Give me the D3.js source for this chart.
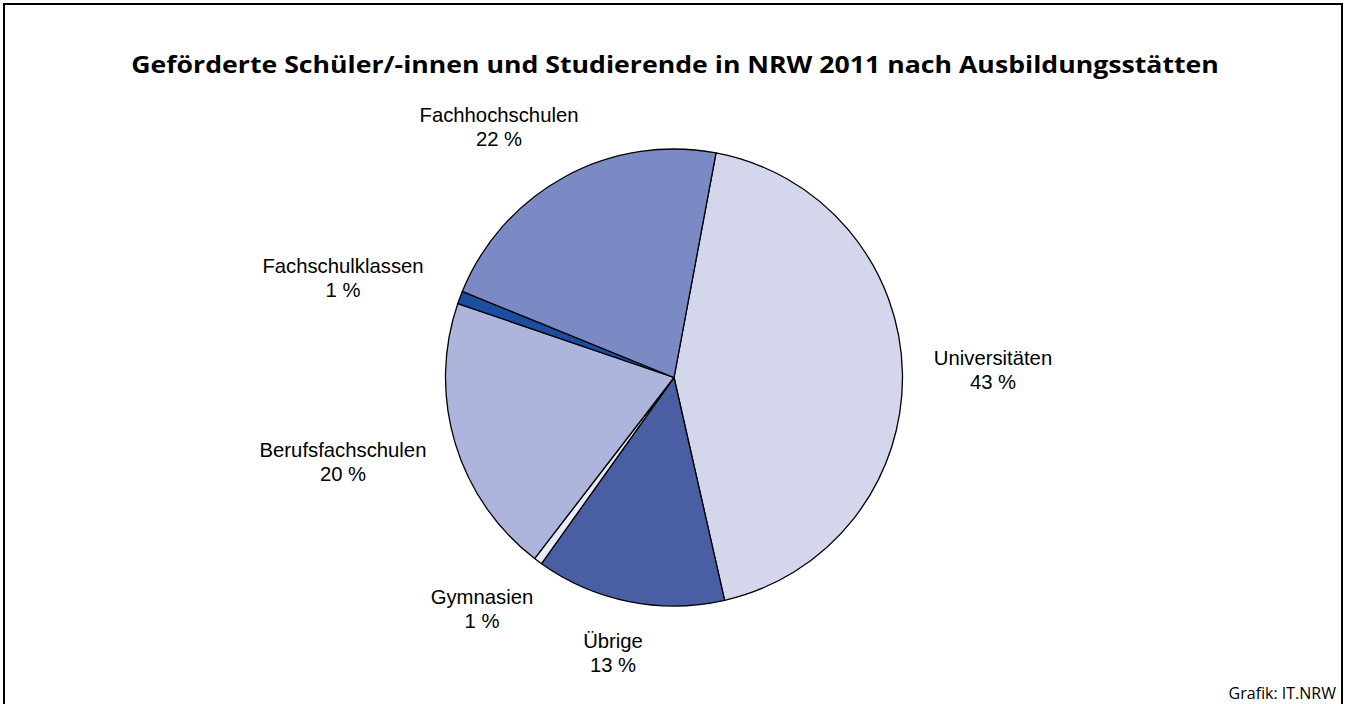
<!DOCTYPE html>
<html><head><meta charset="utf-8">
<script src="https://cdn.jsdelivr.net/npm/d3@7/dist/d3.min.js"></script>
<style>body{margin:0;background:#fff}svg{display:block}</style>
</head><body>
<svg id="c" width="1352" height="704"></svg>
<script>
const categories = ["Universitäten","Übrige","Gymnasien","Berufsfachschulen","Fachschulklassen","Fachhochschulen"];
const values = [43.5, 13.4, 0.6, 19.8, 0.9, 21.8];
const percentLabels = ["43 %","13 %","1 %","20 %","1 %","22 %"];
const colors = ["#d4d7ec","#4a5fa3","#e9ebf5","#adb5dc","#1b4e9e","#7b8ac5"];
const title = "Geförderte Schüler/-innen und Studierende in NRW 2011 nach Ausbildungsstätten";
const source = "Grafik: IT.NRW";

const svg = d3.select("#c");
svg.append("rect").attr("x",4).attr("y",4).attr("width",1338).attr("height",720)
  .attr("fill","none").attr("stroke","#000").attr("stroke-width",2);

// title: fit to the reference width with a horizontal scale
const tg = svg.append("g");
const t = tg.append("text").attr("x",0).attr("y",0).attr("text-anchor","middle")
  .attr("font-family","'Open Sans', 'Noto Sans', sans-serif").attr("font-weight","bold")
  .attr("font-size",24).attr("fill","#000").text(title);
const tw = t.node().getComputedTextLength();
tg.attr("transform",`translate(675,73) scale(${1088/tw},1)`);

const cx = 674, cy = 377.5, r = 228.5;
const startA = 10.6*Math.PI/180;
const pie = d3.pie().sort(null).startAngle(startA).endAngle(startA+2*Math.PI)(values);
const arc = d3.arc().innerRadius(0).outerRadius(r);
const g = svg.append("g").attr("transform",`translate(${cx},${cy})`);
g.selectAll("path").data(pie).join("path").attr("d",arc)
  .attr("fill",(d,i)=>colors[i]).attr("stroke","#000").attr("stroke-width",1.3).attr("stroke-linejoin","round");

// label anchor positions (centre x, baseline y of first line)
const labelPos = [[993,365],[613,648],[482,604],[343,457],[343,273],[499,122]];
const lg = svg.append("g").attr("font-family","'Liberation Sans', Arial, sans-serif").attr("font-size",20.3).attr("fill","#000").attr("text-anchor","middle");
categories.forEach((c,i)=>{
  const tx = lg.append("text").attr("x",labelPos[i][0]).attr("y",labelPos[i][1]);
  tx.append("tspan").attr("x",labelPos[i][0]).text(c);
  tx.append("tspan").attr("x",labelPos[i][0]).attr("dy",24).text(percentLabels[i]);
});

svg.append("text").attr("x",1336).attr("y",699).attr("text-anchor","end")
  .attr("font-family","'Open Sans', 'Noto Sans', sans-serif").attr("font-size",16).attr("fill","#000").text(source);
</script>
</body></html>
